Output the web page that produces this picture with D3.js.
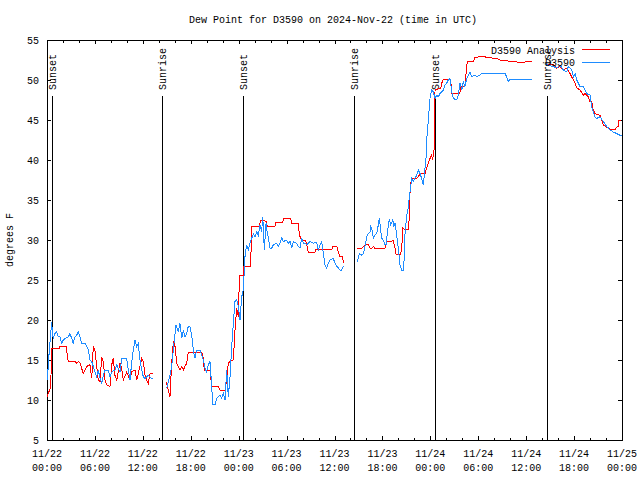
<!DOCTYPE html>
<html><head><meta charset="utf-8">
<script src="https://cdn.jsdelivr.net/npm/d3@7"></script>
<style>
body{margin:0;background:#fff}
svg{display:block}
text{font-family:"Liberation Mono","DejaVu Sans Mono",monospace;font-size:10px;fill:#000}
</style>
</head><body><svg id="c" width="640" height="480"></svg>
<script>
// ---------- data (hours since 11/22 00:00 UTC, dew point °F); null = gap ----------
const analysis = [
[0.0,10.4],[0.46,11.6],[0.59,16.4],[1.54,16.4],[1.63,16.7],[2.38,16.7],[2.67,14.8],[3.5,14.8],[3.72,14.6],[3.92,14.8],[4.13,14.6],[4.55,13.3],[4.97,14.2],[5.38,14.4],[5.6,12.7],[5.8,16.7],[6.0,16.25],[6.22,14.2],[6.42,12.5],[6.64,12.3],[6.85,15.4],[7.05,14.8],[7.26,12.5],[7.48,11.9],[7.89,11.7],[8.1,14.4],[8.3,15.2],[8.5,13.1],[8.73,12.5],[9.14,14.6],[9.35,14.0],[9.55,12.5],[9.98,13.5],[10.39,12.5],[10.6,13.5],[11.02,13.75],[11.23,12.5],[11.43,13.3],[11.86,15.2],[12.06,14.8],[12.27,13.1],[12.48,12.5],[12.68,12.1],[12.9,13.3],[13.31,13.3],
[14.0,null],
[14.9,12.3],[15.19,11.25],[15.4,10.4],[15.61,14.6],[15.82,17.3],[16.03,16.7],[16.24,14.6],[16.44,14.2],[16.65,13.75],[16.87,14.2],[17.07,13.75],[17.28,14.2],[17.49,14.6],[17.69,16.0],[19.37,16.0],[19.57,15.2],[19.7,13.75],[20.41,13.75],[20.62,11.75],[21.45,11.75],[21.66,11.25],[22.29,11.2],[22.5,12.5],[22.7,14.6],[22.92,14.8],[23.33,15.0],[23.54,18.75],[23.75,21.5],[23.96,20.4],[24.05,23.75],[24.17,25.6],[24.58,25.6],[24.67,26.7],[25.5,26.7],[25.63,31.75],[26.58,31.75],[26.76,32.4],[27.3,32.4],[27.43,32.3],[27.59,31.7],[28.55,31.7],[28.68,32.2],[29.51,32.2],[29.68,32.7],[30.52,32.7],[30.64,32.1],[31.47,32.1],[31.6,30.6],[31.9,30.0],[32.31,30.0],[32.43,29.8],[32.52,29.4],[32.72,28.5],[33.56,28.5],[33.68,28.8],[35.65,28.8],[35.78,29.2],[36.28,29.2],[36.48,28.5],[36.69,27.9],[37.03,27.9],[37.1,27.1],
[38.0,null],
[38.86,29.0],[39.41,29.0],[39.61,29.2],[40.03,29.4],[40.23,29.4],[40.45,28.96],[40.66,28.96],[40.86,29.2],[41.07,28.96],[42.32,28.96],[42.54,29.8],[43.36,29.9],[43.58,28.96],[43.7,28.25],[44.29,28.25],[44.42,28.96],[44.54,31.5],[44.83,31.25],[45.24,31.3],[45.37,32.9],[45.45,35.8],[45.58,37.3],[45.66,37.7],[46.29,37.7],[46.49,37.9],[46.71,38.3],[47.33,38.3],[47.54,39.0],[47.75,39.6],[47.96,40.2],[48.17,40.6],[48.29,40.0],[48.46,41.25],[48.59,48.75],[49.3,49.0],[49.43,49.6],[49.62,50.1],[50.55,50.1],[50.68,48.3],[51.7,48.3],[51.8,49.2],[52.34,49.2],[52.47,50.8],[52.63,52.3],[53.38,52.3],[53.59,52.8],[54.63,53.0],[55.06,52.8],[56.31,52.7],[56.73,52.5],[58.39,52.3],[59.23,52.2],[60.48,52.3],[60.69,52.3],
[61.5,null],
[62.36,52.0],[63.4,51.9],[63.82,51.5],[64.24,51.7],[64.65,51.25],[65.07,51.5],[65.49,50.8],[65.7,50.4],[66.12,49.6],[66.33,49.0],[66.74,48.75],[67.16,48.1],[67.37,48.3],[67.79,47.9],[68.0,47.3],[68.2,47.3],[68.4,46.25],[68.62,45.8],[69.24,45.6],[69.45,45.0],[69.66,44.4],[70.08,44.1],[70.71,43.75],[71.12,43.8],[71.34,44.1],[71.54,44.2],[71.63,45.0],[71.88,45.0]
];

const observed = [
[0.04,12.5],[0.29,16.25],[0.59,19.8],[0.66,18.5],[0.79,17.7],[1.0,18.3],[1.21,18.5],[1.42,17.9],[1.63,17.9],[1.84,17.1],[2.04,17.5],[2.25,17.7],[2.67,17.9],[2.88,18.3],[3.09,17.7],[3.29,17.1],[3.5,17.9],[3.72,18.1],[3.92,18.5],[4.13,17.9],[4.34,17.1],[4.76,17.1],[4.97,16.7],[5.17,16.25],[5.38,15.0],[5.6,14.8],[5.8,14.2],[6.0,13.5],[6.22,12.9],[6.42,13.75],[6.64,12.7],[6.85,12.1],[7.05,13.1],[7.26,13.75],[7.68,13.75],[7.89,12.9],[8.1,13.5],[8.52,13.75],[8.73,14.4],[9.14,13.5],[9.35,15.2],[9.98,15.2],[10.18,13.75],[10.39,12.5],[10.6,14.6],[10.81,16.25],[11.02,17.5],[11.23,16.7],[11.43,17.1],[11.64,15.0],[11.86,13.75],[12.06,12.9],[12.27,12.7],[12.68,13.1],[13.11,12.7],[13.31,12.7],
[14.0,null],
[14.99,11.5],[15.19,12.3],[15.4,13.1],[15.61,14.2],[15.82,16.25],[16.03,18.3],[16.15,19.4],[16.44,18.5],[16.65,19.6],[16.87,17.7],[17.07,18.75],[17.28,17.9],[17.49,18.3],[17.69,19.2],[17.9,19.2],[18.12,18.1],[18.32,16.25],[18.53,15.2],[18.74,16.25],[19.16,16.25],[19.37,15.6],[19.57,15.0],[19.78,14.0],[19.99,13.5],[20.2,14.4],[20.41,14.8],[20.62,11.7],[20.75,9.4],[21.04,9.4],[21.25,10.2],[21.66,10.6],[21.87,10.2],[22.08,10.8],[22.29,10.0],[22.5,13.75],[22.7,10.4],[22.92,12.9],[23.13,16.7],[23.33,19.6],[23.54,22.3],[23.75,22.5],[23.96,21.7],[24.17,20.0],[24.38,22.9],[24.58,23.75],[24.79,27.9],[25.0,29.4],[25.21,28.75],[25.42,29.6],[25.63,30.2],[25.84,30.8],[26.05,30.4],[26.26,31.0],[26.46,30.6],[26.67,31.9],[26.88,31.0],[27.0,32.9],[27.09,31.7],[27.21,28.75],[27.43,32.1],[27.59,30.8],[27.71,30.4],[27.92,29.0],[28.14,29.0],[28.34,29.4],[28.76,29.6],[28.96,29.2],[29.18,29.6],[29.39,30.3],[29.59,29.8],[30.01,30.0],[30.22,29.6],[30.43,29.8],[30.64,29.0],[30.84,29.8],[31.27,29.6],[31.47,29.2],[31.68,29.0],[31.9,30.2],[32.1,29.6],[32.31,29.6],[32.52,29.4],[32.93,29.8],[33.35,29.6],[33.77,29.7],[33.97,28.75],[34.19,29.4],[34.4,29.8],[34.6,28.3],[34.81,26.9],[35.02,26.5],[35.22,27.1],[35.44,27.5],[35.85,27.7],[36.06,27.1],[36.28,26.7],[36.48,26.5],[36.69,26.25],[36.9,26.25],[37.1,26.7],
[38.0,null],
[38.86,27.3],[39.11,28.3],[39.41,28.1],[39.61,28.3],[39.82,29.2],[40.03,30.4],[40.23,30.8],[40.45,31.0],[40.53,31.7],[40.66,31.5],[40.86,30.2],[41.07,30.6],[41.28,30.8],[41.49,31.9],[41.61,32.7],[41.78,31.25],[41.91,30.2],[42.11,30.0],[42.32,29.4],[42.45,29.4],[42.61,30.8],[42.86,32.6],[43.04,31.9],[43.29,32.5],[43.45,31.7],[43.58,32.1],[43.79,30.6],[43.99,29.0],[44.2,26.9],[44.42,26.25],[44.62,26.25],[44.71,27.5],[44.83,30.8],[45.04,33.1],[45.24,34.0],[45.37,35.4],[45.54,36.7],[45.66,37.7],[45.87,37.3],[46.08,37.7],[46.29,38.1],[46.49,38.75],[46.71,38.3],[46.92,37.7],[47.12,36.9],[47.33,39.0],[47.45,40.0],[47.54,42.5],[47.75,45.0],[47.96,47.7],[48.17,48.75],[48.38,48.5],[48.59,47.7],[48.8,48.1],[49.0,47.9],[49.21,48.3],[49.43,48.5],[49.62,48.75],[49.84,49.4],[50.05,49.6],[50.25,50.0],[50.46,50.2],[50.68,48.5],[50.88,47.7],[51.3,47.5],[51.5,48.1],[51.72,49.6],[51.93,48.75],[52.13,49.8],[52.34,49.2],[52.55,50.2],[52.76,50.6],[52.97,51.0],[53.18,50.4],[53.59,50.6],[53.8,50.4],[54.22,50.6],[54.43,50.8],[57.35,50.8],[57.56,50.4],[57.76,49.8],[57.97,50.1],[60.69,50.1],
[61.5,null],
[62.36,52.0],[63.2,51.7],[63.4,51.7],[63.82,51.5],[64.24,51.9],[64.65,51.25],[65.07,51.0],[65.28,51.7],[65.7,51.25],[65.91,50.4],[66.12,50.8],[66.33,50.0],[66.74,49.2],[67.16,49.2],[67.37,48.75],[67.58,48.3],[68.0,48.1],[68.2,46.7],[68.4,46.0],[68.62,45.4],[68.83,45.2],[69.24,45.4],[69.66,44.8],[70.08,44.2],[70.29,44.0],[70.5,43.75],[70.91,43.5],[71.34,43.3],[71.75,43.1],[71.96,43.0]
];

const seriesNames = ["D3590 Analysis", "D3590"];
const seriesColors = ["#ff0000", "#1e8cff"];

const sunLabels = ["Sunset", "Sunrise", "Sunset", "Sunrise", "Sunset", "Sunrise"];
const sunHours  = [0.58, 14.45, 24.57, 38.5, 48.55, 62.55];

const xMajorHours = [0, 6, 12, 18, 24, 30, 36, 42, 48, 54, 60, 66, 72];
const xTickDates  = ["11/22","11/22","11/22","11/22","11/23","11/23","11/23","11/23","11/24","11/24","11/24","11/24","11/25"];
const xTickTimes  = ["00:00","06:00","12:00","18:00","00:00","06:00","12:00","18:00","00:00","06:00","12:00","18:00","00:00"];
const yTicks = [5, 10, 15, 20, 25, 30, 35, 40, 45, 50, 55];

const titleText = "Dew Point for D3590 on 2024-Nov-22 (time in UTC)";
const yLabelText = "degrees F";

// ---------- layout ----------
const L = 47, R = 622, T = 40, B = 440;
const svg = d3.select("#c");
const x = d3.scaleLinear().domain([0, 72]).range([L, R]);
const y = d3.scaleLinear().domain([5, 55]).range([B, T]);
const minorHours = d3.range(0, 73, 2).filter(h => h % 6 !== 0);

svg.append("text").attr("x", 333).attr("y", 23).attr("text-anchor", "middle").text(titleText);
svg.append("text").attr("transform", "translate(13,240) rotate(-90)").attr("text-anchor", "middle").text(yLabelText);

function styleAxis(g) {
  g.select(".domain").remove();
  g.selectAll("line").attr("stroke", "#000").attr("shape-rendering", "crispEdges");
}
// bottom / top
svg.append("g").attr("transform", `translate(0,${B})`)
  .call(d3.axisBottom(x).tickValues(xMajorHours).tickSize(-4).tickFormat("")).call(styleAxis);
svg.append("g").attr("transform", `translate(0,${B})`)
  .call(d3.axisBottom(x).tickValues(minorHours).tickSize(-2.5).tickFormat("")).call(styleAxis);
svg.append("g").attr("transform", `translate(0,${T})`)
  .call(d3.axisTop(x).tickValues(xMajorHours).tickSize(-4).tickFormat("")).call(styleAxis);
svg.append("g").attr("transform", `translate(0,${T})`)
  .call(d3.axisTop(x).tickValues(minorHours).tickSize(-2.5).tickFormat("")).call(styleAxis);
// left / right
const gl = svg.append("g").attr("transform", `translate(${L},0)`)
  .call(d3.axisLeft(y).tickValues(yTicks).tickSize(-4).tickPadding(8).tickFormat(d3.format("d"))).call(styleAxis);
gl.selectAll("text").attr("font-size", null).attr("font-family", null);
svg.append("g").attr("transform", `translate(${R},0)`)
  .call(d3.axisRight(y).tickValues(yTicks).tickSize(-4).tickFormat("")).call(styleAxis);

// x tick labels (two lines)
const xl = svg.append("g");
xMajorHours.forEach((h, i) => {
  xl.append("text").attr("x", x(h)).attr("y", 457).attr("text-anchor", "middle").text(xTickDates[i]);
  xl.append("text").attr("x", x(h)).attr("y", 471).attr("text-anchor", "middle").text(xTickTimes[i]);
});

// frame
svg.append("rect").attr("x", L + 0.5).attr("y", T + 0.5).attr("width", R - L).attr("height", B - T)
  .attr("fill", "none").attr("stroke", "#000").attr("shape-rendering", "crispEdges");

// sunrise / sunset markers
const yTopLine = B - 0.86 * (B - T);
const yLabelStart = B - 0.875 * (B - T);
sunHours.forEach((h, i) => {
  const xp = Math.round(x(h)) + 0.5;
  svg.append("line").attr("x1", xp).attr("x2", xp).attr("y1", B).attr("y2", yTopLine)
    .attr("stroke", "#000").attr("stroke-width", 1).attr("shape-rendering", "crispEdges");
  svg.append("text").attr("transform", `translate(${xp + 3.5},${yLabelStart}) rotate(-90)`)
    .attr("text-anchor", "start").text(sunLabels[i]);
});

// data lines
const line = d3.line().defined(d => d[1] != null).x(d => x(d[0])).y(d => y(d[1]));
[analysis, observed].forEach((data, i) => {
  svg.append("path").datum(data).attr("d", line).attr("fill", "none")
    .attr("stroke", seriesColors[i]).attr("stroke-width", 1).attr("stroke-linejoin", "miter")
    .attr("shape-rendering", "crispEdges");
});

// legend
const legY = [53.5, 66];
const legLineY = [49.5, 62.5];
seriesNames.forEach((n, i) => {
  svg.append("text").attr("x", 575).attr("y", legY[i]).attr("text-anchor", "end").text(n);
  svg.append("line").attr("x1", 582).attr("x2", 610).attr("y1", legLineY[i]).attr("y2", legLineY[i])
    .attr("stroke", seriesColors[i]).attr("stroke-width", 1).attr("shape-rendering", "crispEdges");
});
</script></body></html>
